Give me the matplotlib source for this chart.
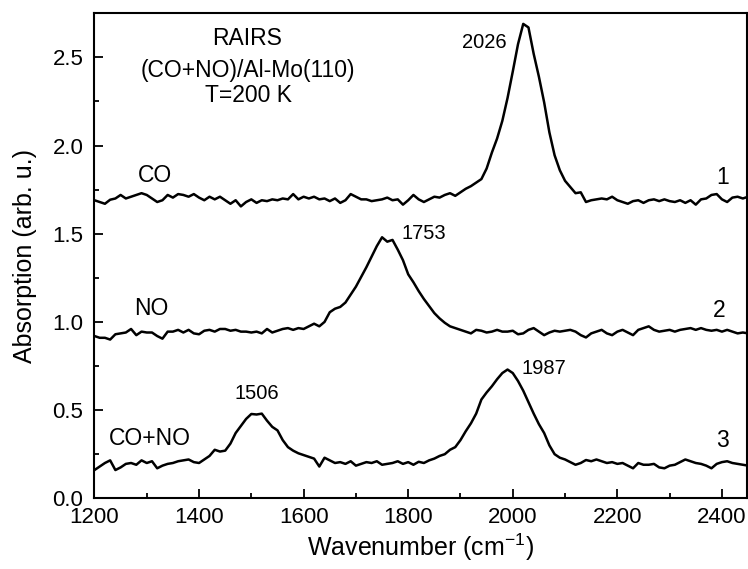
import numpy as np
import matplotlib
matplotlib.use("Agg")
import matplotlib.pyplot as plt
from matplotlib.ticker import MultipleLocator

plt.rcParams['font.family'] = ['Liberation Sans', 'DejaVu Sans']
plt.rcParams['mathtext.fontset'] = 'custom'
plt.rcParams['mathtext.rm'] = 'Liberation Sans'

# wavenumber grid (cm^-1), one reading every 10 cm^-1
wavenumber = np.arange(1200, 2451, 10)

# spectrum 1: CO
co = [
    1.690, 1.680, 1.670, 1.693, 1.700, 1.720, 1.700, 1.710, 1.720, 1.730,
    1.720, 1.700, 1.680, 1.690, 1.720, 1.705, 1.725, 1.720, 1.710, 1.725,
    1.705, 1.690, 1.710, 1.695, 1.710, 1.690, 1.670, 1.690, 1.655, 1.680,
    1.695, 1.675, 1.690, 1.685, 1.695, 1.690, 1.700, 1.695, 1.725, 1.695,
    1.710, 1.700, 1.710, 1.695, 1.700, 1.685, 1.700, 1.675, 1.690, 1.725,
    1.710, 1.695, 1.695, 1.685, 1.690, 1.695, 1.705, 1.690, 1.695, 1.665,
    1.690, 1.720, 1.695, 1.680, 1.695, 1.710, 1.705, 1.720, 1.730, 1.715,
    1.735, 1.755, 1.770, 1.790, 1.810, 1.870, 1.960, 2.040, 2.140, 2.270,
    2.420, 2.575, 2.690, 2.670, 2.520, 2.390, 2.245, 2.075, 1.945, 1.860,
    1.800, 1.765, 1.730, 1.735, 1.680, 1.690, 1.695, 1.700, 1.695, 1.710,
    1.690, 1.680, 1.670, 1.685, 1.690, 1.675, 1.690, 1.695, 1.685, 1.695,
    1.685, 1.680, 1.690, 1.675, 1.690, 1.665, 1.695, 1.700, 1.720, 1.725,
    1.695, 1.680, 1.705, 1.710, 1.700, 1.710,
]

# spectrum 2: NO
no = [
    0.920, 0.910, 0.910, 0.900, 0.930, 0.935, 0.940, 0.960, 0.925, 0.945,
    0.940, 0.940, 0.920, 0.905, 0.945, 0.945, 0.955, 0.940, 0.955, 0.935,
    0.930, 0.950, 0.955, 0.945, 0.960, 0.960, 0.950, 0.955, 0.945, 0.945,
    0.940, 0.945, 0.935, 0.960, 0.940, 0.950, 0.960, 0.965, 0.955, 0.965,
    0.960, 0.975, 0.990, 0.975, 1.000, 1.055, 1.075, 1.085, 1.110, 1.155,
    1.200, 1.255, 1.310, 1.370, 1.430, 1.480, 1.455, 1.465, 1.410, 1.350,
    1.270, 1.225, 1.175, 1.130, 1.090, 1.050, 1.020, 0.995, 0.975, 0.965,
    0.955, 0.945, 0.935, 0.955, 0.950, 0.940, 0.945, 0.955, 0.945, 0.945,
    0.950, 0.930, 0.935, 0.955, 0.965, 0.945, 0.925, 0.940, 0.950, 0.945,
    0.950, 0.955, 0.945, 0.925, 0.912, 0.935, 0.945, 0.955, 0.935, 0.925,
    0.945, 0.955, 0.940, 0.925, 0.955, 0.965, 0.975, 0.955, 0.945, 0.950,
    0.955, 0.945, 0.955, 0.960, 0.965, 0.955, 0.965, 0.955, 0.950, 0.955,
    0.945, 0.955, 0.945, 0.935, 0.940, 0.935,
]

# spectrum 3: CO+NO
co_no = [
    0.160, 0.180, 0.200, 0.215, 0.160, 0.175, 0.195, 0.200, 0.190, 0.215,
    0.200, 0.210, 0.170, 0.185, 0.195, 0.200, 0.210, 0.215, 0.220, 0.205,
    0.200, 0.220, 0.240, 0.275, 0.265, 0.270, 0.310, 0.370, 0.410, 0.450,
    0.478, 0.475, 0.480, 0.440, 0.405, 0.385, 0.330, 0.290, 0.270, 0.255,
    0.245, 0.235, 0.225, 0.180, 0.230, 0.215, 0.200, 0.205, 0.195, 0.210,
    0.185, 0.195, 0.205, 0.200, 0.210, 0.190, 0.195, 0.200, 0.210, 0.195,
    0.205, 0.190, 0.207, 0.200, 0.215, 0.225, 0.240, 0.250, 0.275, 0.290,
    0.330, 0.380, 0.425, 0.480, 0.560, 0.600, 0.635, 0.675, 0.710, 0.730,
    0.710, 0.665, 0.610, 0.545, 0.480, 0.420, 0.370, 0.300, 0.250, 0.230,
    0.220, 0.205, 0.190, 0.200, 0.217, 0.210, 0.220, 0.210, 0.200, 0.205,
    0.195, 0.200, 0.185, 0.170, 0.200, 0.190, 0.190, 0.195, 0.175, 0.170,
    0.185, 0.190, 0.205, 0.220, 0.210, 0.200, 0.195, 0.185, 0.170, 0.195,
    0.205, 0.210, 0.200, 0.195, 0.190, 0.185,
]

series = [co, no, co_no]
species_labels = ["CO", "NO", "CO+NO"]
species_pos = [(1315, 1.83), (1309, 1.076), (1306, 0.34)]
number_labels = ["1", "2", "3"]
number_pos = [(2401, 1.82), (2395, 1.066), (2401, 0.33)]
peak_labels = ["2026", "1753", "1506", "1987"]
peak_pos = [(1946, 2.585), (1829, 1.50), (1510, 0.595), (2060, 0.736)]
title_lines = ["RAIRS", "(CO+NO)/Al-Mo(110)", "T=200 K"]
title_pos = [(1491, 2.605), (1494, 2.425), (1494, 2.284)]

fig = plt.figure(figsize=(7.48, 5.69), dpi=100)
ax = fig.add_axes([0.1263, 0.1243, 0.8717, 0.8523])

for s in series:
    ax.plot(wavenumber, s, color='black', lw=1.8, solid_joinstyle='round')

for t, (x, y) in zip(species_labels, species_pos):
    ax.text(x, y, t, fontsize=16.5, ha='center', va='center')
for t, (x, y) in zip(number_labels, number_pos):
    ax.text(x, y, t, fontsize=16.5, ha='center', va='center')
for t, (x, y) in zip(peak_labels, peak_pos):
    ax.text(x, y, t, fontsize=14.5, ha='center', va='center')
for t, (x, y) in zip(title_lines, title_pos):
    ax.text(x, y, t, fontsize=16.5, ha='center', va='center')

ax.set_xlim(1200, 2447)
ax.set_ylim(0, 2.75)
ax.xaxis.set_major_locator(MultipleLocator(200))
ax.xaxis.set_minor_locator(MultipleLocator(100))
ax.yaxis.set_major_locator(MultipleLocator(0.5))
ax.yaxis.set_minor_locator(MultipleLocator(0.25))
ax.yaxis.set_major_formatter(matplotlib.ticker.FormatStrFormatter('%.1f'))

ax.tick_params(which='both', direction='in', top=False, right=False, width=1.3)
ax.tick_params(which='major', length=6.5, labelsize=16)
ax.tick_params(which='minor', length=3.6)
ax.tick_params(axis='x', which='major', pad=6)
ax.tick_params(axis='y', which='major', pad=8)
for sp in ax.spines.values():
    sp.set_linewidth(1.5)

ax.set_xlabel(r"Wavenumber (cm$^{\mathregular{-1}}$)", fontsize=18, labelpad=3)
ax.set_ylabel("Absorption (arb. u.)", fontsize=18, labelpad=11)

fig.savefig("out.png", dpi=100)
